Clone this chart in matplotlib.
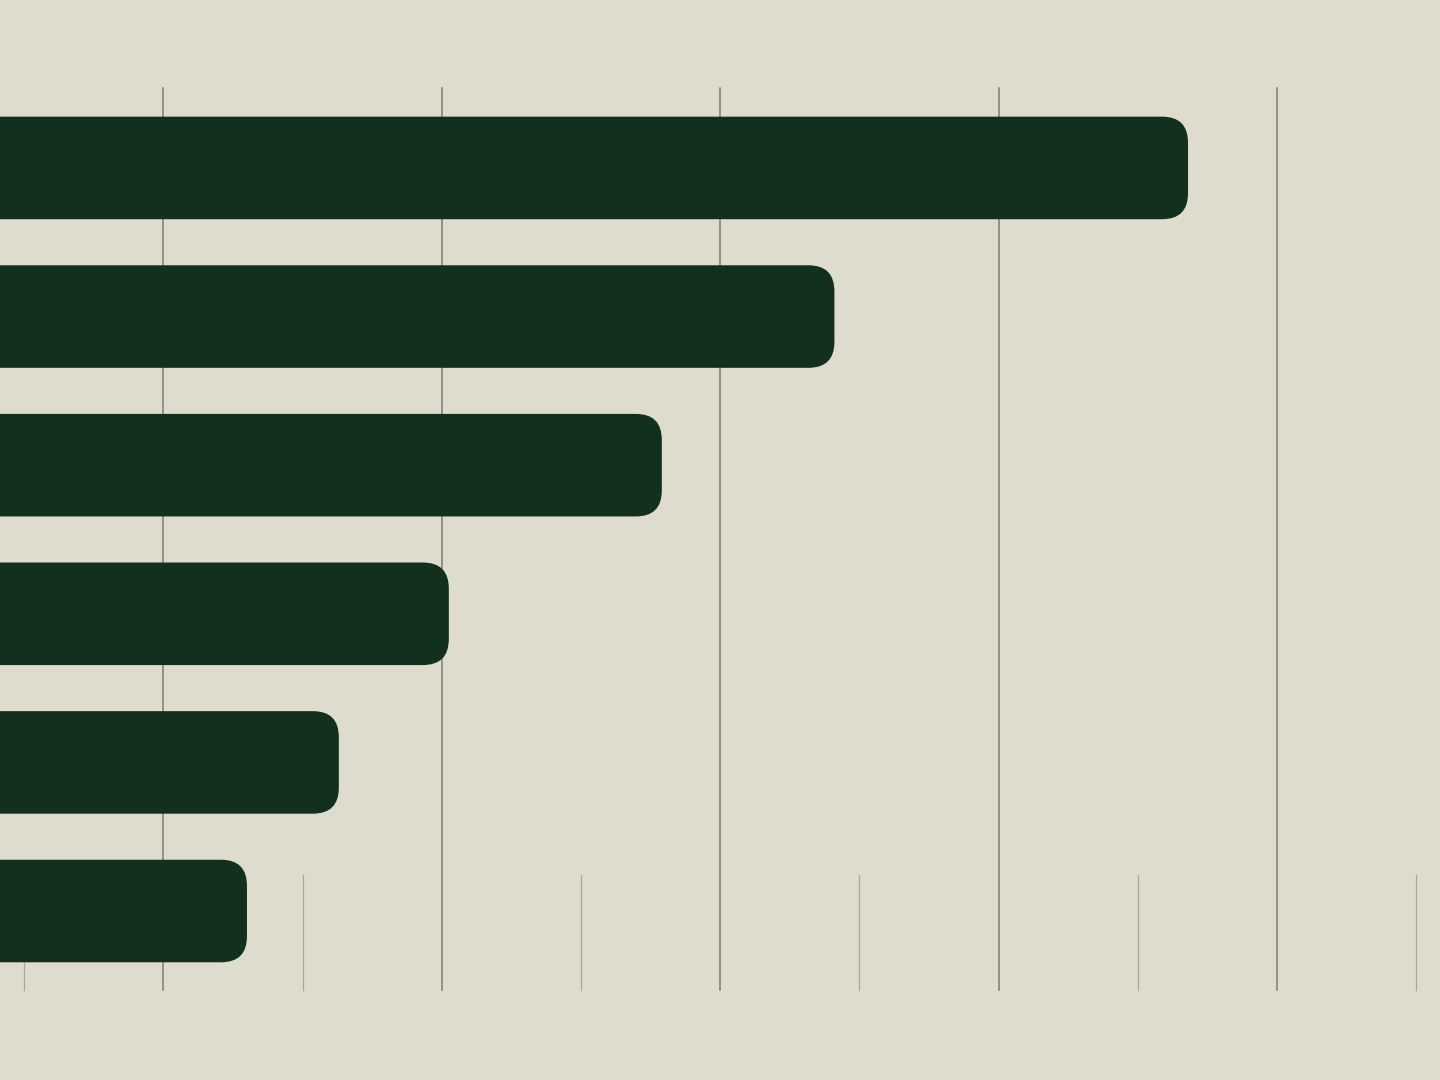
import numpy as np
import matplotlib
matplotlib.use("Agg")
import matplotlib.pyplot as plt
from matplotlib.patches import FancyBboxPatch

# values (one grid step = 10)
categories = ["A", "B", "C", "D", "E", "F"]
values = [83.6, 58.2, 45.8, 30.5, 22.6, 16.0]
major_ticks = [10, 30, 50, 70, 90]
minor_ticks = [0, 20, 40, 60, 80, 100]

bg = "#DEDCCC"
bar_color = "#13301E"
major_color = "#7f7c70"
minor_color = "#aaa79a"

W, H, dpi = 1440, 1080, 100
fig = plt.figure(figsize=(W / dpi, H / dpi), dpi=dpi, facecolor=bg)
ax = fig.add_axes([0, 0, 1, 1])
ax.set_facecolor(bg)

x0, x1 = -1.74, 101.7
y0, y1 = 6.137, -1.13
ax.set_xlim(x0, x1)
ax.set_ylim(y0, y1)
ax.axis("off")

# gridlines (major tall, minor short near the bottom)
for t in major_ticks:
    ax.axvline(t, ymin=0.0833, ymax=0.9185, color=major_color, lw=1.1, zorder=1)
for t in minor_ticks:
    ax.axvline(t, ymin=0.0833, ymax=0.19, color=minor_color, lw=0.9, zorder=1)

# rounded bars
px_x = (x1 - x0) / W
px_y = (y0 - y1) / H
bar_h = 0.69
radius_px = 26
for i, v in enumerate(values):
    left = x0 - 5
    box = FancyBboxPatch((left, i - bar_h / 2), v - left, bar_h,
                         boxstyle=f"round,pad=0,rounding_size={radius_px * px_x}",
                         mutation_aspect=px_y / px_x,
                         fc=bar_color, ec="none", zorder=2)
    ax.add_patch(box)

fig.savefig("out.png", dpi=dpi, facecolor=bg)
